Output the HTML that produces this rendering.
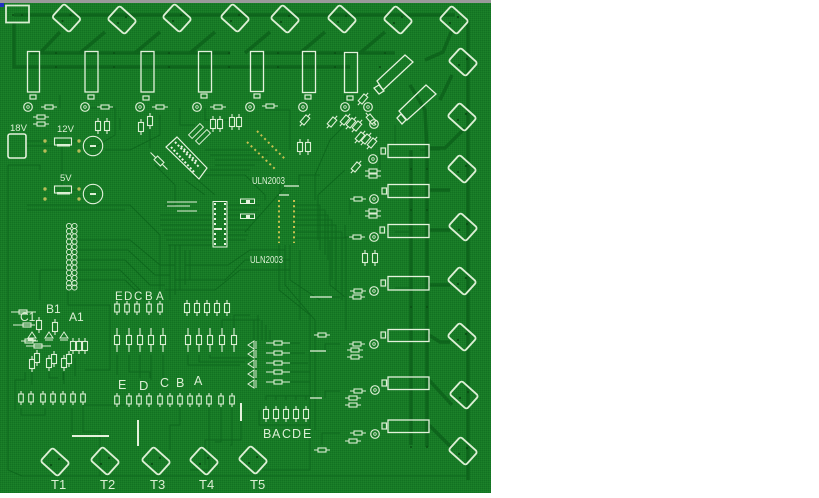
<!DOCTYPE html>
<html><head><meta charset="utf-8"><style>
html,body{margin:0;padding:0;background:#fff;width:819px;height:498px;overflow:hidden}
svg{display:block}
text{font-family:"Liberation Sans",sans-serif;fill:#dcefd4}
</style></head><body>
<svg width="819" height="498" viewBox="0 0 819 498" xmlns="http://www.w3.org/2000/svg">
<defs>
<pattern id="dith" width="2" height="2" patternUnits="userSpaceOnUse"><rect width="2" height="2" fill="#187a26"/><rect width="1" height="1" fill="#127222"/><rect x="1" y="1" width="1" height="1" fill="#1c822a"/></pattern>
<g id="dm"><rect x="-11.500" y="-9" width="23" height="18" rx="2.500" fill="none" stroke="#dcefd4" stroke-width="1.900" transform="rotate(42)"/><circle cx="-4" cy="3" r="1.100" fill="#0a4f14"/><circle cx="4" cy="-3" r="1.100" fill="#0a4f14"/></g>
<g id="rv" fill="none" stroke="#dcefd4" stroke-width="1.100"><path d="M0-8V-4.500M0 4.500V8"/><rect x="-2.500" y="-4.500" width="5" height="9"/></g>
<g id="rl" fill="none" stroke="#dcefd4" stroke-width="1.100"><path d="M0-12V-4.500M0 4.500V12"/><rect x="-2.500" y="-4.500" width="5" height="9"/></g>
<g id="rs" fill="none" stroke="#dcefd4" stroke-width="1.100"><path d="M0-7V-4M0 4V7"/><rect x="-2.300" y="-4" width="4.600" height="8"/></g>
<g id="rh" fill="none" stroke="#dcefd4" stroke-width="1.100"><path d="M-8 0H-4M4 0H8"/><rect x="-4" y="-2" width="8" height="4"/></g>
<g id="rhl" fill="none" stroke="#dcefd4" stroke-width="1.100"><path d="M-12 0H-4M4 0H12"/><rect x="-4" y="-2" width="8" height="4"/></g>
<g id="led" fill="none" stroke="#dcefd4" stroke-width="1.200"><circle r="4.300"/><circle r="1.300" fill="#0f6a1e" stroke-width=".8"/></g>
<g id="pad"><rect x="-2" y="-3" width="4.500" height="6" fill="none" stroke="#dcefd4" stroke-width="1.200"/></g>
<g id="padh"><rect x="-3" y="-2" width="6" height="4" fill="none" stroke="#dcefd4" stroke-width="1.200"/></g>
<g id="tri" fill="none" stroke="#dcefd4"><path d="M-4 3L0-3L4 3Z M-4 5H4"/></g>
<g id="hc" fill="none" stroke="#dcefd4" stroke-width=".9"><circle cx="69" r="2.600"/><circle cx="74.500" r="2.600"/></g>
</defs>
<rect width="819" height="498" fill="#fff"/>
<rect x="0" y="3" width="491" height="490" fill="url(#dith)"/>
<rect x="0" y="0" width="491" height="3" fill="#9a9a9a"/>
<rect x="0" y="3" width="4" height="4" fill="#2030c0"/>

<!-- thick traces -->
<g fill="none" stroke="#0e651c" stroke-width="3.500">
<path d="M14 15H455"/><path d="M14 23V67H350"/><path d="M30 53H230M250 53H395"/>
<path d="M468 20V480"/><path d="M411 150V445"/><path d="M427 150V447"/>
<path d="M428 148L445 148L465 128"/><path d="M429 190H450"/><path d="M429 230H450"/><path d="M429 285H450"/><path d="M429 335L440 342H450"/><path d="M429 380L452 405"/><path d="M429 425L452 448"/>
<path d="M425 60L443 52L452 30"/><path d="M440 100L452 75"/><path d="M410 85L425 110L427 150"/>
<path d="M360 53L385 32M300 53L325 32M245 53L270 32M190 53L215 32M135 53L160 32M80 53L105 32M40 53L60 32"/>
</g>
<!-- thin traces -->
<g fill="none" stroke="#0e681d" stroke-width="1">
<path d="M8 165H40V170M8 165V470L22 476H468"/>
<path d="M27 205H130L160 235V300M27 210H125"/>
<path d="M60 95V108M90 108H115V135L90 150M160 115V135L130 150H105"/>
<path d="M26 146H54M26 141H45M62 146V186M72 141H80M72 190H80"/>
<path d="M160 215H213M160 220H213M160 225H213M162 230H213M164 235H213M166 240H213M168 245H213"/>
<path d="M170 245V300M175 245V295M180 245V290M185 250V285M190 250V280"/>
<path d="M227 205H260M227 210H258M227 215H256M227 220H254M227 225H252M227 230H250M227 235H248M227 240H246"/>
<path d="M205 175H245L265 195V200M210 170H250M215 165H255M205 150H270M210 155H268M215 160H262"/>
<path d="M294 205H320V250M294 210H325V255M294 215H328V260M294 220H332V280M294 225H336V290M294 232H342V300M294 238H346V330"/>
<path d="M279 245V290L310 315V440M285 245V285L315 320V430M290 245V280L320 300M300 250V320"/>
<path d="M78 240H130L160 265H175M78 250H128L155 275H170M78 260H125L150 285H165M78 270H120L140 290H135M78 280H125L145 300"/>
<path d="M40 270H78M40 270V300M68 290V305H110V370H85"/>
<path d="M110 340V320M117 355V375M129 355V372H150V378M140 355V378M151 355V380M163 355V385"/>
<path d="M165 290H215L240 270H290M175 280H225L245 260H290M185 265H228L250 250H285"/>
<path d="M188 355V365H240M199 355V362H245M210 355V358H250M222 330V320H260M234 330V315H250"/>
<path d="M241 403V440H205V465M232 408V445H230M221 408V442H215M209 408V470H190M180 408V425H170V450"/>
<path d="M21 408V415H45V408M83 405H125M83 398V432H100V476M72 408V432M63 380V372M25 372V380H15V410"/>
<path d="M285 343H300M285 353H305M285 363H308M285 372H310M285 382H310M254 320V340M258 315V340M262 320V340M266 325V340M270 330V340"/>
<path d="M266 400V396H312M276 400V396M286 400V396M296 400V396M306 400V396M259 410V425H310V470H262"/>
<path d="M340 297H330M340 344H325V350M340 391H325V398M340 433H322V445M330 240V285L345 297"/>
<path d="M345 170L318 195V240M355 115L330 140L315 175V200M345 110V95M305 110V128M265 110H290V150"/>
<path d="M380 170V150M365 237H345V225M360 199H350V215M395 145V125M420 150H440M395 232H410M395 288H410"/>
<path d="M286 186L245 232M280 178V195M299 186V175H320"/>
<path d="M180 108V125H195M120 118V130M150 130V148M205 108V120H230"/>
<path d="M185 180L205 195M192 175L215 195M155 165L175 185V205H165"/>
<path d="M75 358V376M49 372V378H58M64 372V384M32 372V385"/>
</g>
<!-- via dots -->
<g fill="#0a4f14">
<circle cx="56" cy="53" r="1"/><circle cx="114" cy="53" r="1"/><circle cx="169" cy="53" r="1"/><circle cx="229" cy="53" r="1"/><circle cx="278" cy="53" r="1"/><circle cx="335" cy="53" r="1"/><circle cx="385" cy="53" r="1"/>
<circle cx="56" cy="67" r="1"/><circle cx="114" cy="67" r="1"/><circle cx="169" cy="67" r="1"/><circle cx="229" cy="67" r="1"/><circle cx="278" cy="67" r="1"/><circle cx="335" cy="67" r="1"/><circle cx="380" cy="67" r="1"/>
<circle cx="411" cy="169" r="1"/><circle cx="427" cy="169" r="1"/><circle cx="411" cy="210" r="1"/><circle cx="427" cy="210" r="1"/><circle cx="411" cy="307" r="1"/><circle cx="427" cy="307" r="1"/><circle cx="411" cy="447" r="1"/><circle cx="427" cy="447" r="1"/>
</g>
<!-- top-left connector -->
<rect x="6" y="5.500" width="23" height="17" fill="none" stroke="#d8ecd0" stroke-width="1.800"/>
<circle cx="13" cy="15" r="1" fill="#0a4f14"/><circle cx="22" cy="15" r="1" fill="#0a4f14"/>

<!-- diamonds -->
<use href="#dm" x="66.500" y="18"/><use href="#dm" x="122" y="20"/><use href="#dm" x="177" y="18"/><use href="#dm" x="235" y="18"/>
<use href="#dm" x="285" y="19"/><use href="#dm" x="342" y="19"/><use href="#dm" x="398" y="20"/><use href="#dm" x="454" y="20"/>
<use href="#dm" x="463" y="62"/><use href="#dm" x="462" y="117"/><use href="#dm" x="462" y="169"/><use href="#dm" x="463" y="227"/>
<use href="#dm" x="462" y="281"/><use href="#dm" x="462" y="337"/><use href="#dm" x="464" y="395"/><use href="#dm" x="463" y="451"/>
<use href="#dm" x="55" y="462"/><use href="#dm" x="105" y="461"/><use href="#dm" x="156" y="461"/><use href="#dm" x="204" y="461"/><use href="#dm" x="253" y="460"/>

<!-- relays / large rects -->
<g fill="none" stroke="#e4f2dc" stroke-width="1.300">
<rect x="27.500" y="51.500" width="12" height="40.500"/><rect x="85" y="51.500" width="13" height="40.500"/><rect x="141" y="51.500" width="13" height="40.500"/><rect x="198.500" y="51.500" width="13" height="40.500"/><rect x="250.500" y="51.500" width="13" height="40"/><rect x="302.500" y="51.500" width="13" height="41"/><rect x="344.500" y="52.500" width="13" height="40"/>
<rect x="388" y="144.500" width="41" height="13"/><rect x="388" y="184.500" width="41" height="13"/><rect x="388" y="224.500" width="41" height="13"/><rect x="388" y="276.500" width="41" height="13.500"/><rect x="388" y="329.500" width="41" height="12"/><rect x="388" y="377" width="41" height="12.500"/><rect x="388" y="420" width="41" height="12.500"/>
<path d="M377 81L405 55L413 62L383 90Z"/><path d="M399 111L426 85L436 94L407 120Z"/>
<path d="M374 88L379 85L384 91L379 94Z"/><path d="M397 118L401 114L406 120L402 124Z"/>
</g>
<!-- pads under relays -->
<g><use href="#padh" x="33" y="97"/><use href="#padh" x="91" y="97"/><use href="#padh" x="146" y="98"/><use href="#padh" x="204" y="96"/><use href="#padh" x="257" y="96"/><use href="#padh" x="308" y="97"/><use href="#padh" x="350" y="98"/>
<use href="#pad" x="383" y="151"/><use href="#pad" x="384" y="191"/><use href="#pad" x="382" y="230"/><use href="#pad" x="383" y="283"/><use href="#pad" x="383" y="335"/><use href="#pad" x="384" y="383"/><use href="#pad" x="384" y="426"/></g>
<!-- LEDs -->
<g><use href="#led" x="28" y="107"/><use href="#led" x="85" y="107"/><use href="#led" x="140" y="107"/><use href="#led" x="197" y="107"/><use href="#led" x="250" y="107"/><use href="#led" x="303" y="107"/><use href="#led" x="345" y="107"/><use href="#led" x="368" y="107"/><use href="#led" x="374" y="124"/><use href="#led" x="373" y="159"/><use href="#led" x="374" y="199"/><use href="#led" x="374" y="237"/><use href="#led" x="374" y="291"/><use href="#led" x="374" y="344"/><use href="#led" x="375" y="390"/><use href="#led" x="375" y="434"/></g>
<!-- horizontal resistors -->
<g><use href="#rh" x="49" y="107"/><use href="#rh" x="105" y="107"/><use href="#rh" x="160" y="107"/><use href="#rh" x="218" y="107"/><use href="#rh" x="270" y="106"/><use href="#rh" x="41" y="117"/><use href="#rh" x="41" y="124"/>
<use href="#rh" x="373" y="171"/><use href="#rh" x="373" y="176"/><use href="#rh" x="358" y="199"/><use href="#rh" x="373" y="211"/><use href="#rh" x="373" y="216"/><use href="#rh" x="357" y="237"/>
<use href="#rh" x="358" y="291"/><use href="#rh" x="357" y="297"/><use href="#rh" x="357" y="344"/><use href="#rh" x="355" y="350"/><use href="#rh" x="355" y="357"/><use href="#rh" x="358" y="391"/><use href="#rh" x="353" y="398"/><use href="#rh" x="353" y="405"/><use href="#rh" x="358" y="433"/><use href="#rh" x="353" y="441"/><use href="#rh" x="322" y="450"/><use href="#rh" x="322" y="335"/>
<use href="#rhl" x="278" y="343"/><use href="#rhl" x="278" y="353"/><use href="#rhl" x="278" y="363"/><use href="#rhl" x="278" y="372"/><use href="#rhl" x="278" y="382"/>
<use href="#rh" x="23" y="312"/><use href="#rh" x="27" y="325"/><use href="#rh" x="29" y="341"/><use href="#rh" x="38" y="346"/></g>
<path d="M11 312H36M13 325H35M21 341H38M26 346H51" stroke="#dcefd4" fill="none"/>
<!-- vertical resistors -->
<g><use href="#rv" x="98" y="126"/><use href="#rv" x="107" y="126"/><use href="#rv" x="141" y="127"/><use href="#rv" x="150" y="121"/><use href="#rv" x="213" y="124"/><use href="#rv" x="220" y="124"/><use href="#rv" x="232" y="122"/><use href="#rv" x="239" y="122"/><use href="#rv" x="300" y="147"/><use href="#rv" x="308" y="147"/><use href="#rv" x="365" y="258"/><use href="#rv" x="375" y="258"/>
<use href="#rv" x="266" y="414"/><use href="#rv" x="276" y="414"/><use href="#rv" x="286" y="414"/><use href="#rv" x="296" y="414"/><use href="#rv" x="306" y="414"/>
<use href="#rs" x="117" y="308"/><use href="#rs" x="127" y="308"/><use href="#rs" x="137" y="308"/><use href="#rs" x="149" y="308"/><use href="#rs" x="160" y="308"/>
<use href="#rv" x="187" y="308"/><use href="#rv" x="197" y="308"/><use href="#rv" x="207" y="308"/><use href="#rv" x="217" y="308"/><use href="#rv" x="227" y="308"/>
<use href="#rl" x="117" y="340"/><use href="#rl" x="129" y="340"/><use href="#rl" x="140" y="340"/><use href="#rl" x="151" y="340"/><use href="#rl" x="163" y="340"/><use href="#rl" x="188" y="340"/><use href="#rl" x="199" y="340"/><use href="#rl" x="210" y="340"/><use href="#rl" x="222" y="340"/><use href="#rl" x="234" y="340"/>
<use href="#rs" x="117" y="400"/><use href="#rs" x="129" y="400"/><use href="#rs" x="139" y="400"/><use href="#rs" x="149" y="400"/><use href="#rs" x="160" y="400"/><use href="#rs" x="170" y="400"/><use href="#rs" x="180" y="400"/><use href="#rs" x="190" y="400"/><use href="#rs" x="199" y="400"/><use href="#rs" x="209" y="400"/><use href="#rs" x="221" y="400"/><use href="#rs" x="232" y="400"/>
<use href="#rs" x="21" y="398"/><use href="#rs" x="31" y="398"/><use href="#rs" x="43" y="398"/><use href="#rs" x="53" y="398"/><use href="#rs" x="63" y="398"/><use href="#rs" x="73" y="398"/><use href="#rs" x="83" y="398"/>
<use href="#rv" x="39" y="325"/><use href="#rv" x="55" y="327"/><use href="#rv" x="73" y="346"/><use href="#rv" x="79" y="346"/><use href="#rv" x="85" y="346"/><use href="#rv" x="32" y="364"/><use href="#rv" x="37" y="358"/><use href="#rv" x="49" y="363"/><use href="#rv" x="54" y="359"/><use href="#rv" x="64" y="363"/><use href="#rv" x="69" y="359"/></g>
<!-- diagonal small resistors -->
<g>
<use href="#rv" transform="translate(363 99) rotate(40)"/><use href="#rv" transform="translate(305 120) rotate(40)"/><use href="#rv" transform="translate(332 122) rotate(40)"/><use href="#rv" transform="translate(345 120) rotate(40)"/><use href="#rv" transform="translate(351 123) rotate(40)"/><use href="#rv" transform="translate(357 126) rotate(40)"/><use href="#rv" transform="translate(360 137) rotate(40)"/><use href="#rv" transform="translate(366 139) rotate(40)"/><use href="#rv" transform="translate(372 143) rotate(40)"/><use href="#rv" transform="translate(356 167) rotate(40)"/><use href="#rv" transform="translate(371 119) rotate(-40)"/>
<use href="#rl" transform="translate(159 161) rotate(-45)"/>
<rect x="-2.500" y="-8" width="5" height="16" fill="none" stroke="#dcefd4" transform="translate(196 131) rotate(45)"/><rect x="-2.500" y="-8" width="5" height="16" fill="none" stroke="#dcefd4" transform="translate(203 137) rotate(45)"/>
</g>
<!-- triangles -->
<g><use href="#tri" x="32" y="335"/><use href="#tri" x="49" y="335"/><use href="#tri" x="64" y="335"/>
<use href="#tri" transform="translate(251 345) rotate(-90)"/><use href="#tri" transform="translate(251 354) rotate(-90)"/><use href="#tri" transform="translate(251 364) rotate(-90)"/><use href="#tri" transform="translate(251 374) rotate(-90)"/><use href="#tri" transform="translate(251 384) rotate(-90)"/></g>
<!-- power section -->
<rect x="8" y="134" width="18" height="24" rx="2" fill="none" stroke="#e4f2dc" stroke-width="1.600"/>
<g fill="none" stroke="#e4f2dc" stroke-width="1.100"><rect x="54.500" y="138" width="17" height="7"/><rect x="54.500" y="186" width="17" height="7"/><circle cx="93" cy="146" r="9.700"/><circle cx="93" cy="194" r="9.700"/></g>
<rect x="57" y="144" width="13" height="2.500" fill="#dcefd4"/><rect x="57" y="192" width="13" height="2.500" fill="#dcefd4"/>
<rect x="90" y="145" width="6" height="2" fill="#dcefd4"/><rect x="90" y="193" width="6" height="2" fill="#dcefd4"/>
<g fill="#b8bc58"><circle cx="45" cy="141" r="1.700"/><circle cx="45" cy="151" r="1.700"/><circle cx="79" cy="141" r="1.700"/><circle cx="79" cy="151" r="1.700"/><circle cx="45" cy="189" r="1.700"/><circle cx="45" cy="199" r="1.700"/><circle cx="79" cy="189" r="1.700"/><circle cx="79" cy="199" r="1.700"/></g>
<!-- ICs -->
<path d="M177 137L207 168L199 179L166 147Z" fill="none" stroke="#e8f4e0" stroke-width="1.200"/>
<g stroke="#e8f4e0" stroke-width="2" stroke-dasharray="2 2" fill="none"><path d="M175 142L200 168"/><path d="M171 147L195 173"/><path d="M181 146L197 162"/></g>
<rect x="213" y="201.500" width="14" height="45.500" fill="none" stroke="#e8f4e0"/>
<g stroke="#e8f4e0" stroke-width="2" stroke-dasharray="2 3" fill="none"><path d="M215 203V247"/><path d="M225 203V247"/></g>
<path d="M216 229H222" stroke="#e8f4e0" stroke-width="2"/>
<g fill="none" stroke="#e4f2dc"><rect x="240.500" y="199" width="14" height="4.500"/><rect x="240.500" y="214" width="14" height="4.500"/></g>
<rect x="246" y="200" width="4" height="3" fill="#e4f2dc"/><rect x="246" y="215" width="4" height="3" fill="#e4f2dc"/>
<!-- yellow pin rows -->
<g stroke="#c8c050" stroke-width="2" stroke-dasharray="2 3.200" fill="none"><path d="M257 131L286 160"/><path d="M247 142L275 169"/><path d="M279 200V243"/><path d="M294 200V243"/></g>
<!-- header -->
<g><use href="#hc" y="226"/><use href="#hc" y="231.200"/><use href="#hc" y="236.400"/><use href="#hc" y="241.600"/><use href="#hc" y="246.800"/><use href="#hc" y="252"/><use href="#hc" y="257.200"/><use href="#hc" y="262.400"/><use href="#hc" y="267.600"/><use href="#hc" y="272.800"/><use href="#hc" y="278"/><use href="#hc" y="283.200"/><use href="#hc" y="287.500"/></g>
<!-- solid bars -->
<g stroke="#e4f2dc" fill="none">
<path d="M72 436H109" stroke-width="2"/><path d="M138 420V446" stroke-width="2"/><path d="M241 403V421" stroke-width="2"/>
<path d="M310 297H332M310 351H326M310 398H322M284 186H299M279 195H289" stroke-width="1.200"/>
<path d="M167 202H197M167 206H190M177 211H197" stroke-width="1"/>
</g>
<!-- labels -->
<g>
<text x="10" y="131" font-size="9.500">18V</text><text x="57" y="132" font-size="9.500">12V</text><text x="60" y="181" font-size="9.500">5V</text>
<text x="252" y="184" font-size="10" textLength="33" lengthAdjust="spacingAndGlyphs">ULN2003</text>
<text x="250" y="263" font-size="10" textLength="33" lengthAdjust="spacingAndGlyphs">ULN2003</text>
<text x="115" y="300" font-size="11.500">E</text><text x="124" y="300" font-size="11.500">D</text><text x="134" y="300" font-size="11.500">C</text><text x="145" y="300" font-size="11.500">B</text><text x="156" y="300" font-size="11.500">A</text>
<text x="46" y="313" font-size="12">B1</text><text x="69" y="321" font-size="12">A1</text><text x="20" y="321" font-size="12">C1</text>
<text x="118" y="389" font-size="12.500">E</text><text x="139" y="390" font-size="13">D</text><text x="160" y="387" font-size="12.500">C</text><text x="176" y="387" font-size="12.500">B</text><text x="194" y="385" font-size="12.500">A</text>
<text x="263" y="438" font-size="12.500">B</text><text x="272" y="438" font-size="12.500">A</text><text x="282" y="438" font-size="12.500">C</text><text x="292" y="438" font-size="12.500">D</text><text x="303" y="438" font-size="12.500">E</text>
<text x="51" y="489" font-size="13">T1</text><text x="100" y="489" font-size="13">T2</text><text x="150" y="489" font-size="13">T3</text><text x="199" y="489" font-size="13">T4</text><text x="250" y="489" font-size="13">T5</text>
</g>
</svg>
</body></html>
